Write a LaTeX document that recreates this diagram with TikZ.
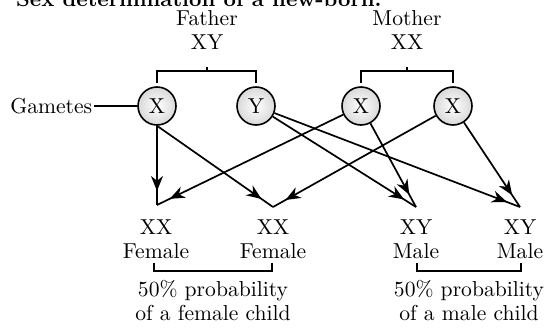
\documentclass[tikz,border=0pt]{standalone}
\usetikzlibrary{arrows.meta,decorations.markings}

\tikzset{
  every node/.style={font=\fontsize{10.8}{12}\selectfont},
  gamete/.style={circle, draw, line width=0.8pt, minimum size=19pt, inner sep=0pt,
    inner color=white, outer color=gray!30},
  cross/.style={line width=0.85pt, postaction={decorate},
    decoration={markings, mark=at position -7pt with {\arrow{Stealth[length=7.5pt,width=6pt,inset=2.4pt]}}}},
  bracket/.style={line width=0.7pt},
}

\begin{document}
\begin{tikzpicture}[x=0.5pt,y=-0.5pt]
\useasboundingbox (0,0) rectangle (551,327);

\node[anchor=base west, font=\fontsize{10.8}{12}\selectfont\bfseries] (title) at (9,6) {Sex determination of a new-born.};

\node[align=center] (father) at (207,30) {Father\\XY};
\node[align=center] (mother) at (407,30) {Mother\\XX};

\node[gamete] (fx) at (157,106) {X};
\node[gamete] (fy) at (256,106) {Y};
\node[gamete] (mx1) at (361,106) {X};
\node[gamete] (mx2) at (453,106) {X};

\node[anchor=west, inner xsep=0.5pt] (gam) at (9,106) {Gametes};
\draw [bracket] (gam.east) -- (fx.west);

% brackets from parents to gametes
\node[coordinate] (fb) at (207,71) {};
\node[coordinate] (mb) at (407,71) {};
\draw [bracket] ([yshift=1.5pt]fx.north) |- (fb) -| ([yshift=1.5pt]fy.north);
\draw [bracket] ([yshift=1.5pt]mx1.north) |- (mb) -| ([yshift=1.5pt]mx2.north);
\draw [bracket] (fb) -- ++(0,-4);
\draw [bracket] (mb) -- ++(0,-4);

% meeting points of the gametes
\node[coordinate] (v1) at (157,205) {};
\node[coordinate] (v2) at (273,207) {};
\node[coordinate] (v3) at (416,207) {};
\node[coordinate] (v4) at (520,207) {};

\draw [cross] (fx.south) -- (v1);
\draw [cross] (fx.south) -- (v2);
\draw [cross] (mx1) -- (v1);
\draw [cross] (mx2) -- (v2);
\draw [cross] (fy) -- (v3);
\draw [cross] (fy) -- (v4);
\draw [cross] (mx1) -- (v3);
\draw [cross] (mx2) -- (v4);

\node[align=center, anchor=north] (c1) at (156,213) {XX\\Female};
\node[align=center, anchor=north] (c2) at (273,213) {XX\\Female};
\node[align=center, anchor=north] (c3) at (416,213) {XY\\Male};
\node[align=center, anchor=north] (c4) at (520,213) {XY\\Male};

% brackets below the children
\node[coordinate] (b1) at (154,263) {};
\node[coordinate] (b2) at (272,263) {};
\node[coordinate] (b3) at (417,263) {};
\node[coordinate] (b4) at (521,263) {};
\draw [bracket] (b1) -- ++(0,8) -| (b2);
\draw [bracket] (b3) -- ++(0,8) -| (b4);

\node[align=center] (pf) at (213,301) {50\% probability\\of a female child};
\node[align=center] (pm) at (469,301) {50\% probability\\of a male child};

\end{tikzpicture}
\end{document}
